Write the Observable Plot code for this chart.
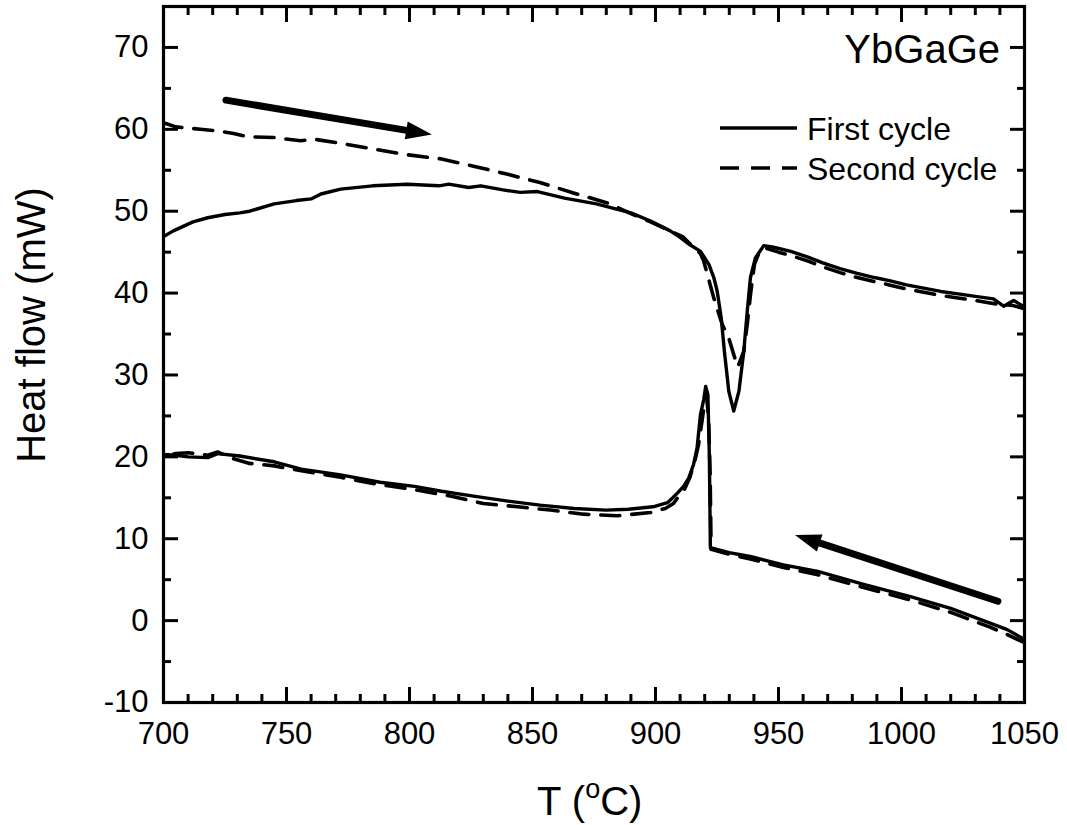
<!DOCTYPE html>
<html><head><meta charset="utf-8">
<script src="https://cdn.jsdelivr.net/npm/d3@7"></script>
<script src="https://cdn.jsdelivr.net/npm/@observablehq/plot@0.6"></script>
<style>
body{margin:0;background:#fff;}
#chart{width:1067px;height:825px;}
</style>
</head><body><div id="chart"></div>
<script>
// ---- data (T in °C, heat flow in mW) ----
const firstHeatT = [700,704,712,718,725,731,735,745,754,760,764,772,785,799,812,816,824,829,838,845,852,863,876,890,898,906,910,914,918.3,921.7,923.7,925.1,926.7,928,929.8,931.8,933.9,935.9,937.3,938.6,940.6,944,948,955,962,968,975,982,989,995.5,1002,1009,1016,1023,1030,1037.4,1041.5,1045.6,1050];
const firstHeatV = [46.9,47.6,48.7,49.2,49.6,49.8,50.0,50.9,51.3,51.5,52.1,52.7,53.1,53.3,53.1,53.3,52.9,53.1,52.6,52.3,52.4,51.6,50.9,49.8,48.8,47.6,46.8,45.9,45.1,43.5,41.9,40.2,37.0,32.9,28.0,25.6,28.0,32.9,37.8,41.9,44.3,45.8,45.6,45.1,44.4,43.7,43.0,42.4,41.9,41.5,41.0,40.6,40.2,39.9,39.6,39.3,38.4,39.1,38.3];

const firstCoolT = [1050,1043,1036,1020,1004,985,966,952,939,930,922.3,921.9,921.3,920.4,919.6,918.3,916.9,915.5,913.5,911.4,909,907,904.9,899,889,880,867,853,840,826,813,802,788,772,756,745,731,722,718,710,705,700];
const firstCoolV = [-2.3,-1.1,-0.3,1.5,2.9,4.4,6.0,6.8,7.8,8.3,8.9,20.0,27.6,28.6,27.0,25.2,21.1,19.1,17.4,16.4,15.6,15.0,14.4,13.9,13.6,13.5,13.7,14.1,14.6,15.2,15.8,16.4,16.9,17.8,18.5,19.4,20.1,20.4,19.9,20.0,20.2,20.3];

const secondHeatT = [700,705,715,722,728.5,734,745,755.7,761,772,785.4,799,812.6,826,840,853,867,880.5,890,898,905,911,918.3,919.6,923.7,927.1,929.8,932,933.5,935.9,937.3,938.6,940.2,942.3,944.5,950,955,962,968,975,982,989,995,1002,1009,1016,1023,1030,1036,1040,1045,1050];
const secondHeatV = [60.8,60.3,60.0,59.8,59.5,59.1,59.0,58.6,58.8,58.3,57.6,56.9,56.4,55.5,54.5,53.5,52.2,51.0,49.7,48.7,47.7,46.9,44.8,43.9,39.4,36.2,34.5,32.3,31.0,32.9,36.2,39.8,43.5,45.1,45.5,45.0,44.6,43.9,43.2,42.5,41.9,41.4,41.0,40.5,40.1,39.7,39.4,39.1,38.8,38.6,38.5,38.1];

const secondCoolT = [1050,1043,1039,1036,1020,1004,985,966,952,939,930,922.6,922.2,921.6,920.9,920.2,919.2,917.5,916,914,911.4,909,907.3,904,898,884.5,870.7,857.3,844,830,817,800,788,772,756,745,735,728,722,718,710,705,700];
const secondCoolV = [-2.7,-1.7,-1.2,-0.8,1.0,2.5,4.0,5.6,6.5,7.5,8.1,8.7,18.0,24.5,27.0,27.4,25.0,21.5,19.5,17.5,15.8,15.0,14.3,13.7,13.2,12.8,13.0,13.5,13.9,14.3,15.2,16.1,16.6,17.5,18.3,18.9,19.2,19.8,20.6,20.2,20.5,20.4,20.1];

// direction arrows: tail (T,V) -> tip (T,V)
const arrowTailT = [725.6, 1039.4];
const arrowTailV = [63.5, 2.3];
const arrowTipT  = [809.3, 956.9];
const arrowTipV  = [59.3, 10.4];

// tick labels
const xMajorTicks = [700,750,800,850,900,950,1000,1050];
const xMinorTicks = [710,720,730,740,760,770,780,790,810,820,830,840,860,870,880,890,910,920,930,940,960,970,980,990,1010,1020,1030,1040];
const yMajorTicks = [-10,0,10,20,30,40,50,60,70];
const yMinorTicks = [-5,5,15,25,35,45,55,65];

const seriesNames = ["First cycle", "Second cycle"];
const sampleName = "YbGaGe";
const xTitle = "T (", xTitleSup = "o", xTitleEnd = "C)";
const yTitle = "Heat flow (mW)";

// ---- build tables ----
const rows = (T, V, branch) => T.map((t, i) => ({T: t, V: V[i], branch}));
const firstRows = [...rows(firstHeatT, firstHeatV, "heat"), ...rows(firstCoolT, firstCoolV, "cool")];
const secondRows = [...rows(secondHeatT, secondHeatV, "heat"), ...rows(secondCoolT, secondCoolV, "cool")];
const arrows = arrowTailT.map((t, i) => ({x1: t, y1: arrowTailV[i], x2: arrowTipT[i], y2: arrowTipV[i]}));

const FONT = "'Liberation Sans', Arial, Helvetica, sans-serif";
const DASH = "19,12";

const blank = () => "";
const plot = Plot.plot({
  width: 1067, height: 825,
  marginLeft: 163, marginRight: 43, marginTop: 6, marginBottom: 123,
  style: {fontFamily: FONT, fontSize: "31px", color: "black", background: "white", overflow: "visible"},
  x: {domain: [700, 1050]},
  y: {domain: [-10, 75]},
  marks: [
    Plot.line(secondRows, {x: "T", y: "V", z: "branch", stroke: "black", strokeWidth: 3.6, strokeDasharray: DASH, clip: true}),
    Plot.line(firstRows, {x: "T", y: "V", z: "branch", stroke: "black", strokeWidth: 3.4, clip: true}),
    Plot.axisX({anchor: "bottom", ticks: xMajorTicks, tickSize: -15, tickPadding: 34, strokeWidth: 3, label: null, tickFormat: d => String(d)}),
    Plot.axisX({anchor: "bottom", ticks: xMinorTicks, tickSize: -8, strokeWidth: 3, label: null, tickFormat: blank}),
    Plot.axisX({anchor: "top", ticks: xMajorTicks, tickSize: -15, strokeWidth: 3, label: null, tickFormat: blank}),
    Plot.axisX({anchor: "top", ticks: xMinorTicks, tickSize: -8, strokeWidth: 3, label: null, tickFormat: blank}),
    Plot.axisY({anchor: "left", ticks: yMajorTicks, tickSize: -15, tickPadding: 30, strokeWidth: 3, label: null, tickFormat: d => String(d)}),
    Plot.axisY({anchor: "left", ticks: yMinorTicks, tickSize: -8, strokeWidth: 3, label: null, tickFormat: blank}),
    Plot.axisY({anchor: "right", ticks: yMajorTicks, tickSize: -15, strokeWidth: 3, label: null, tickFormat: blank}),
    Plot.axisY({anchor: "right", ticks: yMinorTicks, tickSize: -8, strokeWidth: 3, label: null, tickFormat: blank}),
    Plot.frame({stroke: "black", strokeWidth: 3.2})
  ]
});

const svg = d3.select(plot);
const sx = plot.scale("x"), sy = plot.scale("y");

// arrows drawn through the plot's scales
const ag = svg.append("g");
for (const a of arrows) {
  const x1 = sx.apply(a.x1), y1 = sy.apply(a.y1), x2 = sx.apply(a.x2), y2 = sy.apply(a.y2);
  const dx = x2 - x1, dy = y2 - y1, L = Math.hypot(dx, dy), ux = dx / L, uy = dy / L;
  const hl = 26, hw = 9;
  const bx = x2 - ux * hl, by = y2 - uy * hl;
  ag.append("line").attr("x1", x1).attr("y1", y1).attr("x2", bx + ux * 2).attr("y2", by + uy * 2)
    .attr("stroke", "black").attr("stroke-width", 7).attr("stroke-linecap", "round");
  ag.append("path").attr("d", `M${x2},${y2}L${bx - uy * hw},${by + ux * hw}L${bx + uy * hw},${by - ux * hw}Z`).attr("fill", "black");
}

// sample label and legend
const lg = svg.append("g").attr("font-family", FONT).attr("fill", "black");
lg.append("text").attr("x", 1000).attr("y", 63).attr("text-anchor", "end").attr("font-size", 40).text(sampleName);
lg.append("line").attr("x1", 720).attr("x2", 797).attr("y1", 128).attr("y2", 128).attr("stroke", "black").attr("stroke-width", 3.4);
lg.append("text").attr("x", 807).attr("y", 140).attr("text-anchor", "start").attr("font-size", 32).text(seriesNames[0]);
lg.append("line").attr("x1", 720).attr("x2", 797).attr("y1", 168).attr("y2", 168).attr("stroke", "black").attr("stroke-width", 3.6).attr("stroke-dasharray", DASH);
lg.append("text").attr("x", 807).attr("y", 180).attr("text-anchor", "start").attr("font-size", 32).text(seriesNames[1]);

// axis titles
const tg = svg.append("g").attr("font-family", FONT).attr("fill", "black");
const xt = tg.append("text").attr("x", 537).attr("y", 815).attr("text-anchor", "start").attr("font-size", 40);
xt.append("tspan").text(xTitle);
xt.append("tspan").attr("font-size", 27).attr("dy", -17).text(xTitleSup);
xt.append("tspan").attr("dy", 17).text(xTitleEnd);
tg.append("text").attr("transform", "translate(45,325) rotate(-90)").attr("text-anchor", "middle").attr("font-size", 40).text(yTitle);

document.getElementById("chart").appendChild(plot);
</script>
</body></html>
